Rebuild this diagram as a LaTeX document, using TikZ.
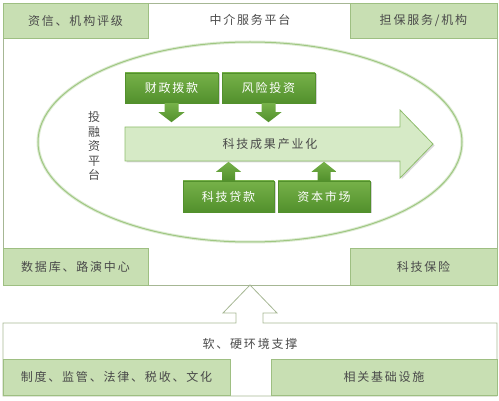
\documentclass[tikz,border=0pt]{standalone}
\usepackage{fontspec}
\setmainfont{Noto Sans CJK SC}[LetterSpace=15]
\usetikzlibrary{calc,shadows}
\definecolor{frm}{HTML}{A6B794}
\definecolor{lgf}{HTML}{C8DFB3}
\definecolor{lgd}{HTML}{9EBF82}
\definecolor{dgt}{HTML}{76B149}
\definecolor{dgb}{HTML}{52902C}
\definecolor{arw}{HTML}{D6EAC6}
\definecolor{arwd}{HTML}{8FBD6C}
\definecolor{ell}{HTML}{9FC782}
\definecolor{txt}{HTML}{4A4A4A}
\newcommand{\cjkfont}{\fontsize{12}{14.5}\selectfont}

\begin{document}
\begin{tikzpicture}[x=1pt,y=-1pt,
  frame/.style={draw=frm,line width=0.8pt},
  lbox/.style={draw=lgd,fill=lgf,line width=0.8pt,text=txt,font=\cjkfont,inner sep=0pt},
  dbox/.style={draw=dgb,top color=dgt,bottom color=dgb,text=white,font=\cjkfont,
    minimum width=92,minimum height=30,inner sep=0pt,
    drop shadow={opacity=0.35,shadow xshift=1.5pt,shadow yshift=-1.5pt}},
  plain/.style={text=txt,font=\cjkfont,inner sep=0pt}]
\useasboundingbox (0,0) rectangle (499,401);
% upper platform
\draw[frame] (3,3) rectangle (497,285);
\node[plain] (zjpt) at (250,20) {中介服务平台};
\node[lbox,minimum width=145,minimum height=35] (zxpj) at (75.5,20.5) {资信、机构评级};
\node[lbox,minimum width=147,minimum height=35] (dbfw) at (423.5,20.5) {担保服务/机构};
\node[lbox,minimum width=145,minimum height=37] (sjk) at (75.5,266.5) {数据库、路演中心};
\node[lbox,minimum width=147,minimum height=37] (kjbx) at (423.5,266.5) {科技保险};
% financing ring
\draw[ell!35,line width=3pt] (250,142) ellipse [x radius=212,y radius=100];
\draw[ell,line width=1pt] (250,142) ellipse [x radius=212,y radius=100];
\node[plain,align=center] (trz) at (94,146) {投\\融\\资\\平\\台};
% industrialisation arrow
\filldraw[fill=arw,draw=arwd,line width=0.8pt,
  drop shadow={opacity=0.3,shadow xshift=1.5pt,shadow yshift=-1.5pt}]
  (125,127) -- (400,127) -- (400,110) -- (433,144) -- (400,178) -- (400,161) -- (125,161) -- cycle;
\node[plain] (kjcg) at (270,144) {科技成果产业化};
% funding sources
\node[dbox,minimum width=93] (czbk) at (171.5,88) {财政拨款};
\node[dbox,minimum width=93] (fxtz) at (268.5,88) {风险投资};
\node[dbox,minimum width=91,minimum height=31] (kjdk) at (228.5,196.5) {科技贷款};
\node[dbox,minimum height=31] (zbsc) at (324,196.5) {资本市场};
\foreach \b in {czbk,fxtz}{
  \shade[top color=dgt,bottom color=dgb] ($(\b.south)+(-7,0)$) -- ++(0,9) -- ++(-6,0)
    -- ($(\b.south)+(0,19)$) -- ($(\b.south)+(13,9)$) -- ++(-6,0) -- ($(\b.south)+(7,0)$) -- cycle;
}
\foreach \b in {kjdk,zbsc}{
  \shade[top color=dgt,bottom color=dgb] ($(\b.north)+(-6.5,0)$) -- ++(0,-9) -- ++(-6,0)
    -- ($(\b.north)+(0,-19)$) -- ($(\b.north)+(12.5,-9)$) -- ++(-6,0) -- ($(\b.north)+(6.5,0)$) -- cycle;
}
% lower platform with up arrow
\draw[frame] (3,323) -- (236,323) -- (236,313) -- (223,313) -- (250,285) -- (277,313)
  -- (263,313) -- (263,323) -- (497,323) -- (497,396) -- (3,396) -- cycle;
\node[plain] (rhj) at (250,344) {软、硬环境支撑};
\node[lbox,minimum width=227,minimum height=36] (zdjg) at (116.5,377) {制度、监管、法律、税收、文化};
\node[lbox,minimum width=226,minimum height=36] (jcss) at (384,377) {相关基础设施};
\end{tikzpicture}
\end{document}
